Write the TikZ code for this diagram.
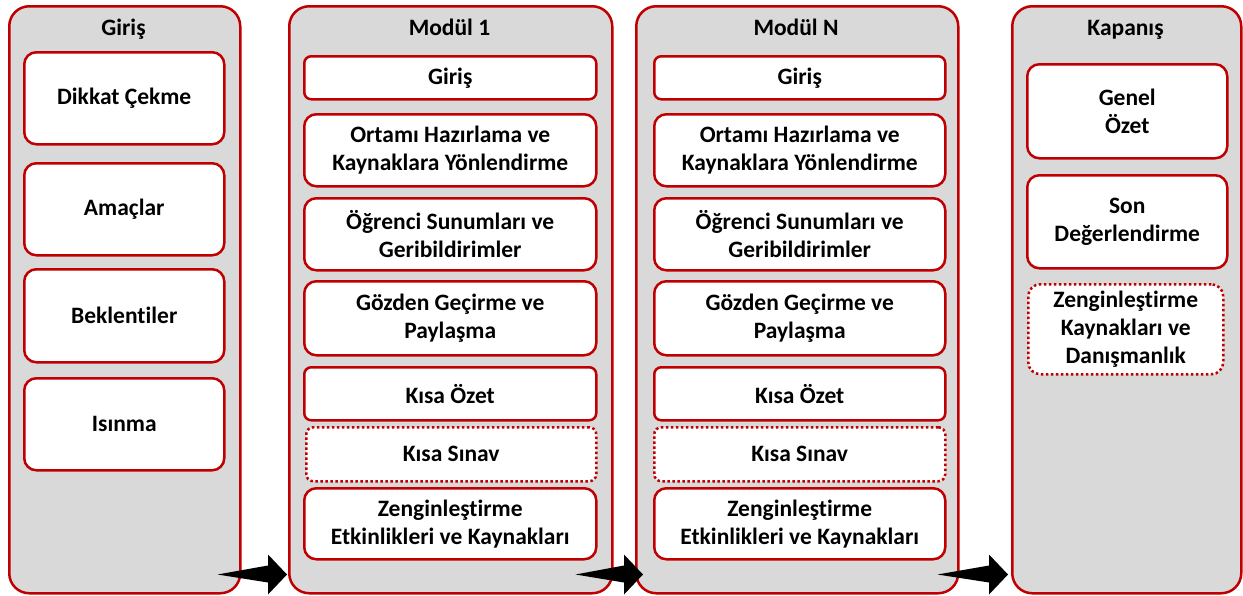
\documentclass[tikz,border=0pt]{standalone}
\usepackage{fontspec}
\setmainfont{Carlito}[Ligatures=NoCommon]
\usetikzlibrary{calc}
\definecolor{kirmizi}{RGB}{192,0,0}
\definecolor{gri}{RGB}{217,217,217}
\tikzstyle{a}=[anchor=north west]
\tikzstyle{yazi}=[font=\fontsize{23.5}{28}\selectfont\bfseries]
\tikzstyle{panel}=[a,draw=kirmizi,fill=gri,line width=2.5pt,rounded corners=20pt,inner sep=0pt]
\tikzstyle{baslik}=[yazi,anchor=base]
\tikzstyle{kutu}=[a,yazi,draw=kirmizi,fill=white,line width=2.5pt,rounded corners=12pt,align=center,inner sep=0pt]
\tikzstyle{ince}=[kutu,rounded corners=7pt]
\tikzstyle{nokta}=[kutu,dash pattern=on 2.5pt off 2.5pt]
\tikzstyle{ok}=[fill=black]
\newcommand{\kalinok}[2]{\fill[ok] (#1) -- ($(#2)+(-19,9)$) -- ($(#2)+(-19,20)$) -- (#2)
  -- ($(#2)+(-19,-20)$) -- ($(#2)+(-19,-8)$) -- cycle;}

\begin{document}
\begin{tikzpicture}[x=1pt,y=1pt]
    \useasboundingbox (0,0) rectangle (1243,-595);

    % panels
    \node[panel, minimum width=231pt, minimum height=587pt] at (8,-5) (giris) {};
    \node[panel, minimum width=323pt, minimum height=587pt] at (288,-5) (modul1) {};
    \node[panel, minimum width=322pt, minimum height=587pt] at (635,-5) (modulN) {};
    \node[panel, minimum width=229pt, minimum height=587pt] at (1011,-5) (kapanis) {};

    \node[baslik] at (123.5,-35) (girisT) {Giriş};
    \node[baslik] at (449.5,-35) (modul1T) {Modül 1};
    \node[baslik] at (796,-35) (modulNT) {Modül N};
    \node[baslik] at (1125.5,-35) (kapanisT) {Kapanış};

    % Giris
    \node[kutu, minimum width=200pt, minimum height=92pt] at (23,-51) (dikkat) {Dikkat Çekme};
    \node[kutu, minimum width=200pt, minimum height=92pt] at (23,-162) (amaclar) {Amaçlar};
    \node[kutu, minimum width=200pt, minimum height=93pt] at (23,-268) (beklenti) {Beklentiler};
    \node[kutu, minimum width=200pt, minimum height=92pt] at (23,-377) (isinma) {Isınma};

    % Modul 1
    \node[ince, minimum width=292pt, minimum height=43pt] at (303,-55) (m1giris) {Giriş};
    \node[kutu, minimum width=292pt, minimum height=72pt] at (303,-113) (m1ortam) {Ortamı Hazırlama ve\\Kaynaklara Yönlendirme};
    \node[kutu, minimum width=292pt, minimum height=72pt] at (303,-197) (m1sunum) {Öğrenci Sunumları ve\\Geribildirimler};
    \node[kutu, minimum width=292pt, minimum height=74pt] at (303,-280) (m1gozden) {Gözden Geçirme ve\\Paylaşma};
    \node[ince, minimum width=292pt, minimum height=53pt] at (303,-366) (m1ozet) {Kısa Özet};
    \node[nokta, rounded corners=7pt, minimum width=290pt, minimum height=54pt] at (305,-426) (m1sinav) {Kısa Sınav};
    \node[kutu, minimum width=292pt, minimum height=71pt] at (303,-487) (m1zengin) {Zenginleştirme\\Etkinlikleri ve Kaynakları};

    % Modul N
    \node[ince, minimum width=291pt, minimum height=43pt] at (653,-55) (mNgiris) {Giriş};
    \node[kutu, minimum width=291pt, minimum height=72pt] at (653,-113) (mNortam) {Ortamı Hazırlama ve\\Kaynaklara Yönlendirme};
    \node[kutu, minimum width=291pt, minimum height=72pt] at (653,-197) (mNsunum) {Öğrenci Sunumları ve\\Geribildirimler};
    \node[kutu, minimum width=291pt, minimum height=74pt] at (653,-280) (mNgozden) {Gözden Geçirme ve\\Paylaşma};
    \node[ince, minimum width=291pt, minimum height=53pt] at (653,-366) (mNozet) {Kısa Özet};
    \node[nokta, rounded corners=7pt, minimum width=291pt, minimum height=54pt] at (653,-426) (mNsinav) {Kısa Sınav};
    \node[kutu, minimum width=291pt, minimum height=71pt] at (653,-487) (mNzengin) {Zenginleştirme\\Etkinlikleri ve Kaynakları};

    % Kapanis
    \node[kutu, minimum width=200pt, minimum height=94pt] at (1026,-63) (genel) {Genel\\Özet};
    \node[kutu, minimum width=200pt, minimum height=93pt] at (1026,-174) (son) {Son\\Değerlendirme};
    \node[nokta, minimum width=195pt, minimum height=90pt] at (1027,-283) (kzengin) {Zenginleştirme\\Kaynakları ve\\Danışmanlık};

    % oklar
    \coordinate (ok1a) at ($(giris.south east)+(-24,20)$);
    \coordinate (ok1b) at ($(modul1.south west)+(-1,20)$);
    \coordinate (ok2a) at ($(modul1.south east)+(-38,20)$);
    \coordinate (ok2b) at ($(modulN.south west)+(8,20)$);
    \coordinate (ok3a) at ($(modulN.south east)+(-22,20)$);
    \coordinate (ok3b) at ($(kapanis.south west)+(-3,20)$);
    \kalinok{ok1a}{ok1b}
    \kalinok{ok2a}{ok2b}
    \kalinok{ok3a}{ok3b}
\end{tikzpicture}
\end{document}
